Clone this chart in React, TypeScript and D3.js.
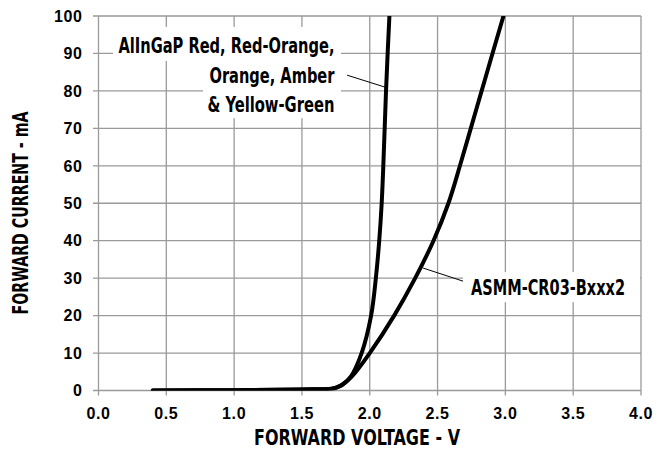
import * as d3 from "d3";

const WIDTH = 668;
const HEIGHT = 450;
const MARGIN = { top: 16, right: 27, bottom: 59.5, left: 98.5 };

const X_TICKS = [0, 0.5, 1, 1.5, 2, 2.5, 3, 3.5, 4];
const Y_TICKS = [0, 10, 20, 30, 40, 50, 60, 70, 80, 90, 100];

// forward current samples (mA), shared by both curves
const CURRENT = [0, 0.1, 0.3, 0.5, 0.9, 1.6, 3.7, 10, 20, 30, 40, 50, 60, 70, 80, 90, 100];

// AlInGaP Red, Red-Orange, Orange, Amber & Yellow-Green
const ALINGAP_V = [0.4, 1.0, 1.5, 1.72, 1.76, 1.8, 1.86, 1.94, 2.01, 2.045, 2.07, 2.088, 2.1, 2.11, 2.12, 2.132, 2.145];

// ASMM-CR03-Bxxx2
const ASMM_V = [0.4, 1.0, 1.5, 1.72, 1.76, 1.8, 1.867, 2.0, 2.18, 2.335, 2.47, 2.58, 2.665, 2.745, 2.825, 2.905, 2.986];

const ALINGAP_LABEL = ["AlInGaP Red, Red-Orange,", "Orange, Amber", "& Yellow-Green"];
const ALINGAP_LABEL_LEN = [216, 125, 127];
const ASMM_LABEL = "ASMM-CR03-Bxxx2";

const GRID = "#9a9a9a";
const NARROW = "'Liberation Sans Narrow', 'DejaVu Sans Condensed', 'Arial Narrow', sans-serif";
const TICK_FONT = "'Liberation Sans', Arial, Helvetica, sans-serif";

export default function App() {
  const innerW = WIDTH - MARGIN.left - MARGIN.right;
  const innerH = HEIGHT - MARGIN.top - MARGIN.bottom;

  const x = d3.scaleLinear().domain([0, 4]).range([MARGIN.left, MARGIN.left + innerW]);
  const y = d3.scaleLinear().domain([0, 100]).range([MARGIN.top + innerH, MARGIN.top]);

  const line = d3
    .line<[number, number]>()
    .x((d) => x(d[0]))
    .y((d) => y(d[1]))
    .curve(d3.curveCatmullRom.alpha(0.5));

  const alingap = ALINGAP_V.map((v, i) => [v, CURRENT[i]] as [number, number]);
  const asmm = ASMM_V.map((v, i) => [v, CURRENT[i]] as [number, number]);

  return (
    <svg
      width={WIDTH}
      height={HEIGHT}
      style={{ position: "absolute", left: 0, top: 0, background: "#fff" }}
    >
      <defs>
        <clipPath id="plot">
          <rect x={x(0)} y={y(100)} width={innerW} height={innerH} />
        </clipPath>
      </defs>

      {/* grid */}
      <g stroke={GRID} strokeWidth={1.3}>
        {X_TICKS.map((t) => (
          <line key={"gx" + t} x1={x(t)} x2={x(t)} y1={y(100)} y2={y(0) + 5} />
        ))}
        {Y_TICKS.map((t) => (
          <line key={"gy" + t} x1={x(0) - 5.5} x2={x(4)} y1={y(t)} y2={y(t)} />
        ))}
      </g>

      {/* label backgrounds */}
      <g fill="#fff">
        <rect x={x(0.107)} y={y(97.1)} width={x(1.788) - x(0.107)} height={y(88) - y(97.1)} />
        <rect x={x(0.77)} y={y(88)} width={x(1.788) - x(0.77)} height={y(72.7) - y(88)} />
        <rect x={x(2.688)} y={y(31.6)} width={x(4) - x(2.688) - 1} height={y(23.6) - y(31.6)} />
      </g>

      {/* curves */}
      <g clipPath="url(#plot)" fill="none" stroke="#000" strokeWidth={4} strokeLinecap="round">
        <path d={line(alingap) ?? ""} />
        <path d={line(asmm) ?? ""} />
      </g>

      {/* leader lines */}
      <g stroke="#000" strokeWidth={1}>
        <line x1={x(1.833)} y1={y(84.2)} x2={x(2.113)} y2={y(81)} />
        <line x1={x(2.393)} y1={y(32.7)} x2={x(2.688)} y2={y(29.2)} />
      </g>

      {/* annotations */}
      <g fontFamily={NARROW} fontWeight="bold" fontSize={21} fill="#000">
        {ALINGAP_LABEL.map((s, i) => (
          <text
            key={s}
            x={x(1.74)}
            y={y([90.1, 82.1, 74.35][i])}
            textAnchor="end"
            textLength={ALINGAP_LABEL_LEN[i]}
            lengthAdjust="spacingAndGlyphs"
          >
            {s}
          </text>
        ))}
        <text x={x(2.747)} y={y(25.5)} textLength={154} lengthAdjust="spacingAndGlyphs">
          {ASMM_LABEL}
        </text>
      </g>

      {/* tick labels */}
      <g fontFamily={TICK_FONT} fontWeight="bold" fontSize={16} fill="#000" letterSpacing={0.6}>
        {X_TICKS.map((t) => (
          <text key={"tx" + t} x={x(t)} y={y(0) + 28} textAnchor="middle">
            {t.toFixed(1)}
          </text>
        ))}
        {Y_TICKS.map((t) => (
          <text key={"ty" + t} x={x(0) - 16} y={y(t)} dy="0.36em" textAnchor="end">
            {t}
          </text>
        ))}
      </g>

      {/* axis titles */}
      <g fontFamily={NARROW} fontWeight="bold" fontSize={21} fill="#000">
        <text x={357} y={445} textAnchor="middle" textLength={206} lengthAdjust="spacingAndGlyphs">
          FORWARD VOLTAGE - V
        </text>
        <text
          transform="translate(28,213) rotate(-90)"
          textAnchor="middle"
          textLength={203}
          lengthAdjust="spacingAndGlyphs"
        >
          FORWARD CURRENT - mA
        </text>
      </g>
    </svg>
  );
}
